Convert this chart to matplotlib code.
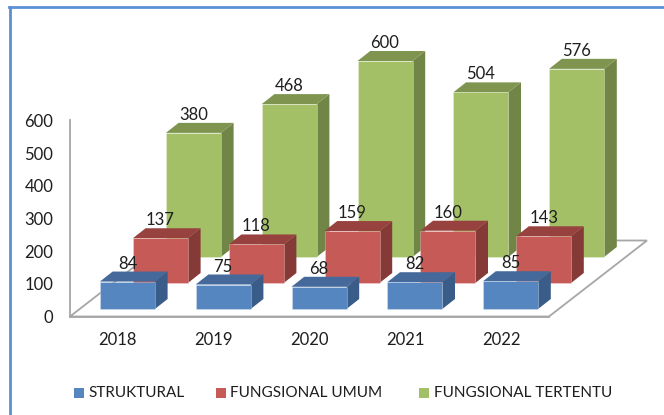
import matplotlib
matplotlib.use('Agg')
import matplotlib.pyplot as plt
from matplotlib.lines import Line2D
from matplotlib.patches import Rectangle

plt.rcParams['font.family'] = ['Lato', 'DejaVu Sans']

years = ['2018', '2019', '2020', '2021', '2022']
struktural = [84, 75, 68, 82, 85]
fungsional_umum = [137, 118, 159, 160, 143]
fungsional_tertentu = [380, 468, 600, 504, 576]
y_ticks = [0, 100, 200, 300, 400, 500, 600]
series_names = ['STRUKTURAL', 'FUNGSIONAL UMUM', 'FUNGSIONAL TERTENTU']

W, H = 664, 415
TEXT = '#1e1e1e'
FS = 12
LEGEND_FS = 11

fig = plt.figure(figsize=(W / 100, H / 100), dpi=100)
ax = fig.add_axes([70 / W, 1 - 316.5 / H, 479 / W, 196 / H])
ax.set_xlim(-0.5, 4.5)
ax.set_ylim(0, 600)

# pixels -> data units, the depth of the fake 3d is given in pixels
px_x = 1 / 95.8
px_y = 600 / 196
bar_w = 55 * px_x
top_dx = 12.7 * px_x
top_dy = 10 * px_y

# front, top, side colours for every series
colors = {
    0: ('#5586C0', '#44699A', '#3A5C88'),
    1: ('#C55A57', '#984240', '#853A38'),
    2: ('#A4C067', '#7E944F', '#708546'),
}
row_dx = [9.5, 42.5, 75.5]
row_dy = [7.5, 33.5, 59.5]
legend_colors = ['#5586C0', '#C55A57', '#A4C067']


def draw_bar(i, value, row):
    x0 = i + (row_dx[row] * px_x) - bar_w / 2
    x1 = x0 + bar_w
    y0 = row_dy[row] * px_y
    y1 = y0 + value
    front, top, side = colors[row]
    z = 3 + row_z[row]
    ax.fill([x1, x1 + top_dx, x1 + top_dx, x1], [y0, y0 + top_dy, y1 + top_dy, y1],
            color=side, lw=0, clip_on=False, zorder=z)
    ax.fill([x0, x1, x1 + top_dx, x0 + top_dx], [y1, y1, y1 + top_dy, y1 + top_dy],
            color=top, lw=0, clip_on=False, zorder=z)
    ax.add_patch(Rectangle((x0, y0), bar_w, value, facecolor=front, edgecolor=(1, 1, 1, 0.3),
                           lw=0.6, clip_on=False, zorder=z))
    ax.text(x0 + bar_w / 2, y1 + 9.5 * px_y + top_dy, str(value), ha='center', va='center_baseline',
            fontsize=FS, color=TEXT, clip_on=False, zorder=10)


# floor
floor_x = [-0.5, 4.5, 4.5 + 98 * px_x, -0.5 + 98 * px_x]
floor_y = [0, 0, 76 * px_y, 76 * px_y]
ax.fill(floor_x, floor_y, facecolor='white', edgecolor='#a6a6a6', lw=1.3, clip_on=False, zorder=1)

# back row first so the front rows cover it
row_z = {2: 0, 1: 1, 0: 2}
for row, values in [(2, fungsional_tertentu), (1, fungsional_umum), (0, struktural)]:
    for i, value in enumerate(values):
        draw_bar(i, value, row)

ax.set_xticks(range(len(years)))
ax.set_xticklabels(years, fontsize=FS, color=TEXT)
ax.set_yticks(y_ticks)
ax.set_yticklabels([str(v) for v in y_ticks], fontsize=FS, color=TEXT, va='center_baseline')
ax.tick_params(axis='x', length=0, pad=11)
ax.tick_params(axis='y', length=0, pad=12)
ax.spines['top'].set_visible(False)
ax.spines['right'].set_visible(False)
ax.spines['left'].set_color('#a6a6a6')
ax.spines['bottom'].set_color('#a6a6a6')
ax.spines['left'].set_linewidth(1.3)
ax.spines['bottom'].set_linewidth(1.3)
ax.patch.set_visible(False)

# legend
legend_x = [74, 216, 419]
for name, c, x in zip(series_names, legend_colors, legend_x):
    fig.add_artist(Rectangle((x / W, 1 - 398 / H), 10 / W, 10 / H, facecolor=c, edgecolor='none',
                             transform=fig.transFigure))
    fig.text((x + 14.5) / W, 1 - 393 / H, name, ha='left', va='center', fontsize=LEGEND_FS, color=TEXT)

# blue frame, left and top only
frame = '#5B8FD6'
fig.add_artist(Line2D([10.3 / W, 10.3 / W], [0, 1 - 7.3 / H], color=frame, lw=2, transform=fig.transFigure))
fig.add_artist(Line2D([9.3 / W, 1], [1 - 7.3 / H, 1 - 7.3 / H], color=frame, lw=2, transform=fig.transFigure))

fig.savefig('out.png', dpi=100, facecolor='white')
